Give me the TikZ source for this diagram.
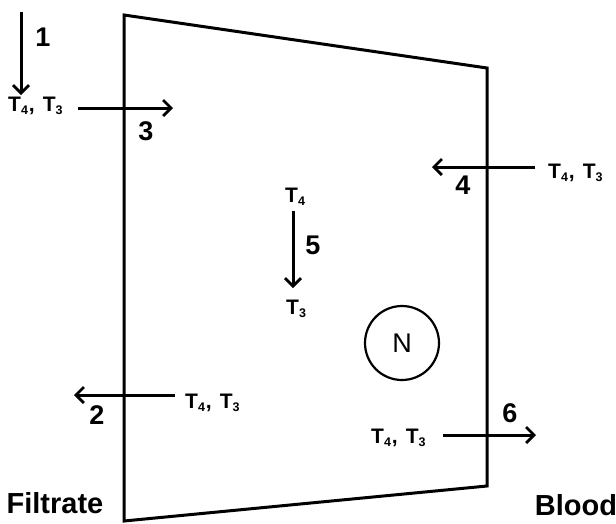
\documentclass[tikz,border=0pt]{standalone}
\usepackage{fontspec}
\setmainfont{Liberation Sans}
\usetikzlibrary{arrows.meta}
\newcommand{\Tsb}[1]{T\raisebox{-3.5pt}{\fontsize{12.5}{12.5}\selectfont #1}}
\newcommand{\Tpair}{\Tsb{4}\kern1pt,\hspace{8pt}\Tsb{3}}
\begin{document}
\begin{tikzpicture}[
  x=1pt, y=-1pt,
  >={Straight Barb[length=8pt, width=16pt, line width=2.8pt]},
  wall/.style={line width=3pt, line join=miter},
  flow/.style={->, line width=3pt},
  conc/.style={inner sep=0pt, anchor=base west, font=\fontsize{21}{21}\selectfont\bfseries},
  num/.style={inner sep=0pt, font=\fontsize{27}{27}\selectfont\bfseries},
  side/.style={inner sep=0pt, font=\fontsize{29}{29}\selectfont\bfseries},
]
\useasboundingbox (0,0) rectangle (616,523);
% ---------------- cell outline ----------------
\coordinate (tl) at (124,15);
\coordinate (tr) at (487,68);
\coordinate (br) at (487,486);
\coordinate (bl) at (124,521);
\draw[wall] (tl) -- (tr) -- (br) -- (bl) -- cycle;
\node[side] (filtrate) at (55,503) {Filtrate};
\node[side] (blood) at (576,505) {Blood};
% ---------------- nucleus ----------------
\node[draw, circle, line width=2.2pt, minimum size=74pt, inner sep=0pt,
      font=\fontsize{27}{27}\selectfont] (nuc) at (402,343) {N};
% ---------------- 1: arrival from filtrate ----------------
\coordinate (s1) at (21,12);
\coordinate (e1) at (21,95);
\draw[flow] (s1) -- (e1);
\node[num] (n1) at (43,37) {1};
% ---------------- 3: uptake from filtrate ----------------
\node[conc] (c3) at (8,111) {\Tpair};
\coordinate (s3) at (78,108);
\coordinate (e3) at (173,108);
\draw[flow] (s3) -- (e3);
\node[num] (n3) at (146,131) {3};
% ---------------- 4: uptake from blood ----------------
\node[conc] (c4) at (548,178) {\Tpair};
\coordinate (s4) at (535,167);
\coordinate (e4) at (432,167);
\draw[flow] (s4) -- (e4);
\node[num] (n4) at (463,185) {4};
% ---------------- 5: conversion ----------------
\node[conc] (t4) at (285,202) {\Tsb{4}};
\node[conc] (t3) at (286,314) {\Tsb{3}};
\coordinate (s5) at (293,211);
\coordinate (e5) at (293,288);
\draw[flow] (s5) -- (e5);
\node[num] (n5) at (313,245) {5};
% ---------------- 2: efflux to filtrate ----------------
\node[conc] (c2) at (185,408) {\Tpair};
\coordinate (s2) at (175,395);
\coordinate (e2) at (74,395);
\draw[flow] (s2) -- (e2);
\node[num] (n2) at (97,415) {2};
% ---------------- 6: efflux to blood ----------------
\node[conc] (c6) at (371,443) {\Tpair};
\coordinate (s6) at (443,435);
\coordinate (e6) at (536,435);
\draw[flow] (s6) -- (e6);
\node[num] (n6) at (510,413) {6};
\end{tikzpicture}
\end{document}
